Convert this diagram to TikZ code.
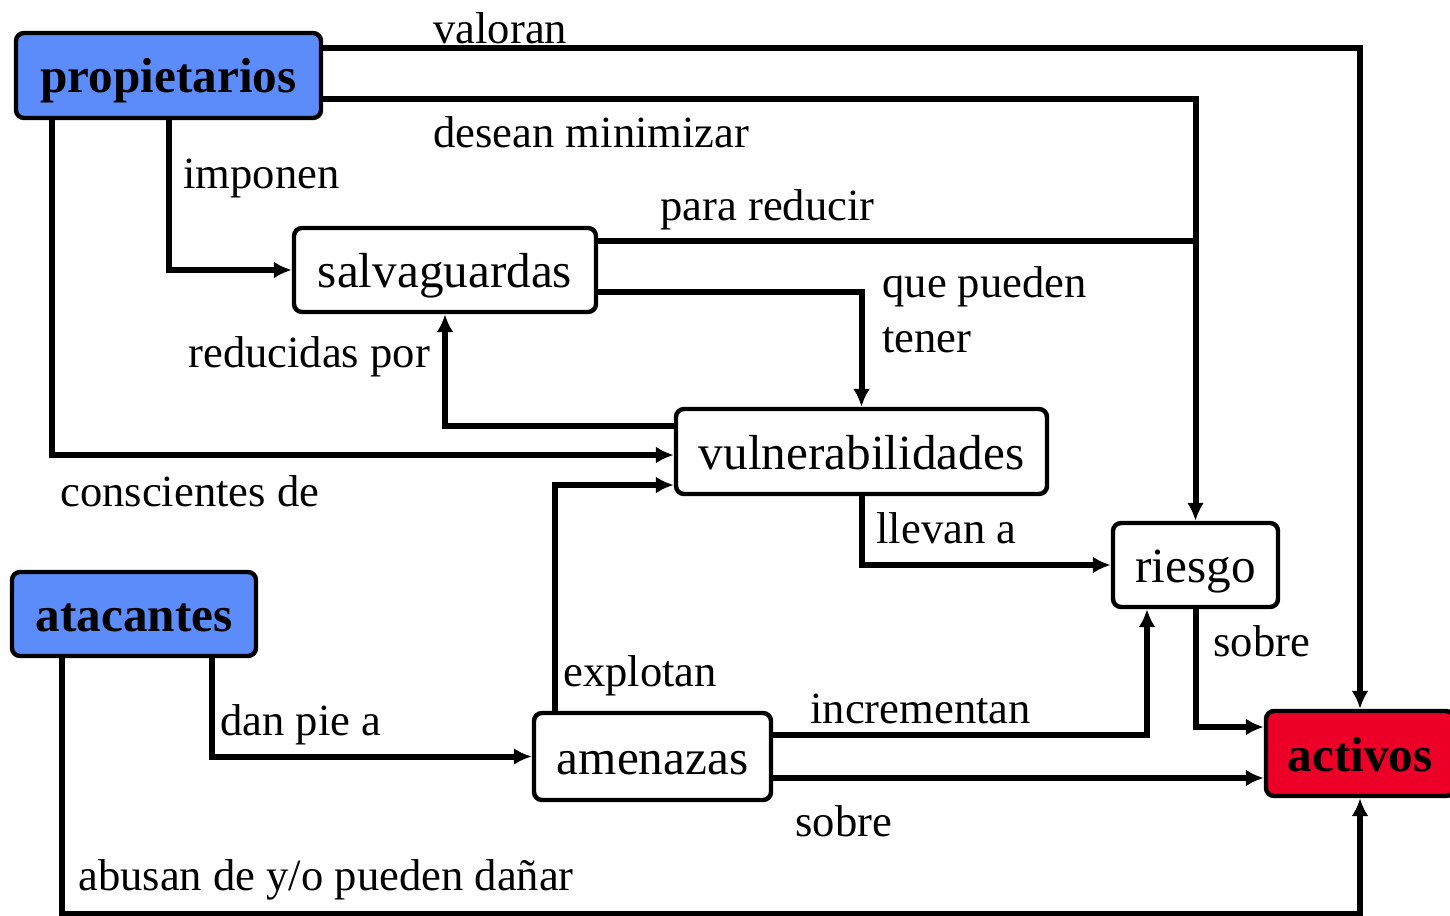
\documentclass[tikz,border=0pt]{standalone}
\usepackage{fontspec}
\setmainfont{Liberation Serif}
\usetikzlibrary{arrows.meta}
\definecolor{azulprop}{RGB}{92,140,250}
\definecolor{rojoact}{RGB}{236,0,40}
\tikzset{
  caja/.style={draw, line width=2.2pt, rounded corners=4pt, inner sep=0pt,
    text height=18pt, text depth=0.5pt, font=\fontsize{24.6}{28}\selectfont},
  actor/.style={caja, fill=azulprop, font=\fontsize{24.6}{28}\selectfont\bfseries},
  flecha/.style={line width=3pt, -{Latex[length=9pt,width=8.5pt]}},
  linea/.style={line width=3pt},
  etiq/.style={anchor=base west, inner sep=0pt, font=\fontsize{22.3}{26}\selectfont}
}
\begin{document}
\begin{tikzpicture}[x=0.5pt,y=-0.5pt]
\useasboundingbox (0,0) rectangle (1450,915);
\node[actor, minimum width=152.5pt, minimum height=42.5pt] (prop) at (168.5,75.5) {propietarios};
\node[actor, minimum width=122pt, minimum height=42pt] (atac) at (134,614) {atacantes};
\node[caja, fill=rojoact, font=\fontsize{24.6}{28}\selectfont\bfseries, minimum width=94pt, minimum height=42.5pt] (act) at (1360,753.5) {activos};
\node[caja, minimum width=151pt, minimum height=42pt] (salv) at (445,270) {salvaguardas};
\node[caja, minimum width=185.5pt, minimum height=42.5pt] (vuln) at (861.5,451.5) {vulnerabilidades};
\node[caja, minimum width=82.5pt, minimum height=42pt] (riesgo) at (1195.5,565) {riesgo};
\node[caja, minimum width=118.5pt, minimum height=43.5pt] (amen) at (652.5,756.5) {amenazas};

\draw[flecha] (prop.east |- 0,48) -| (act.north);
\draw[flecha] (prop.east |- 0,99) -| (riesgo.north);
\draw[flecha] (prop.south) |- (salv.west);
\draw[flecha] (prop.south -| 52,0) |- (vuln.west |- 0,455);
\draw[linea] (salv.east |- 0,241) -- (riesgo.north |- 0,241);
\draw[flecha] (salv.east |- 0,292) -| (vuln.north);
\draw[flecha] (vuln.west |- 0,426) -| (salv.south);
\draw[flecha] (vuln.south) |- (riesgo.west);
\draw[flecha] (atac.south -| 212,0) |- (amen.west);
\draw[flecha] (atac.south -| 62,0) -- ++(0,256) -| (act.south);
\draw[flecha] (amen.north -| 555,0) |- (vuln.west |- 0,485);
\draw[flecha] (amen.east |- 0,735) -| (riesgo.south -| 1147,0);
\draw[flecha] (amen.east |- 0,778) -- (act.west |- 0,778);
\draw[flecha] (riesgo.south) |- (act.west |- 0,727);

\node[etiq] (valoran) at (433,44) {valoran};
\node[etiq] (desean) at (433,148) {desean minimizar};
\node[etiq] (imponen) at (183,188) {imponen};
\node[etiq] (parared) at (660,220) {para reducir};
\node[etiq] (quepueden) at (882,297) {que pueden};
\node[etiq] (tener) at (882,352) {tener};
\node[etiq] (reducidas) at (188,367) {reducidas por};
\node[etiq] (conscientes) at (60,506) {conscientes de};
\node[etiq] (llevan) at (876,543) {llevan a};
\node[etiq] (sobreriesgo) at (1213,656) {sobre};
\node[etiq] (explotan) at (563,686) {explotan};
\node[etiq] (danpie) at (220,735) {dan pie a};
\node[etiq] (incrementan) at (810,723) {incrementan};
\node[etiq] (sobreamen) at (795,836) {sobre};
\node[etiq] (abusan) at (78,890) {abusan de y/o pueden dañar};
\end{tikzpicture}
\end{document}
